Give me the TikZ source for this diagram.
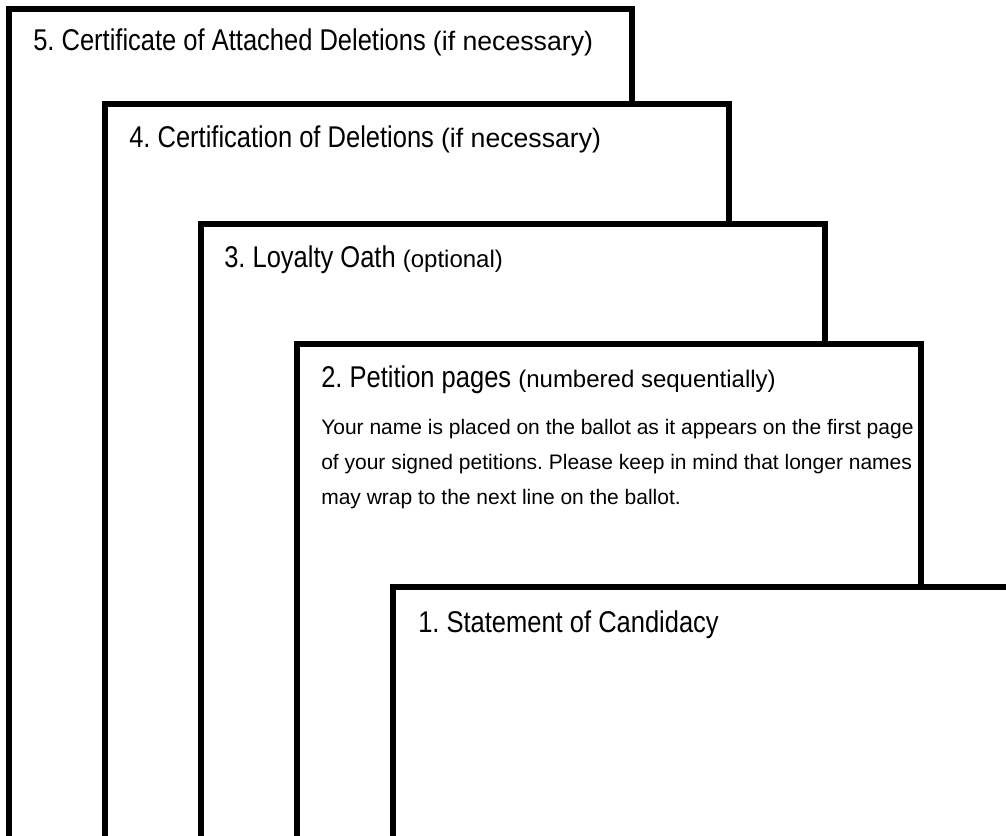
\documentclass[tikz,border=0pt]{standalone}
\usepackage{fontspec}
\setmainfont{Liberation Sans}
\newfontfamily\narrowfont[FakeStretch=0.85]{Liberation Sans}
\frenchspacing
\begin{document}
\begin{tikzpicture}[x=0.75pt,y=-0.75pt,
  page/.style={draw=black,line width=4.5pt,fill=white},
  title/.style={anchor=base west,inner sep=0pt,font=\narrowfont\fontsize{22.5}{27}\selectfont},
  body/.style={anchor=north west,inner sep=0pt,align=left,font=\fontsize{15.75}{26.25}\selectfont}]
\newcommand\paren[2][18]{{\normalfont\fontsize{#1}{22}\selectfont #2}}
\useasboundingbox (0,0) rectangle (1006,835);
\clip (0,0) rectangle (1006,835);
\path[page] (9,9) rectangle (632,900);
\node[title] (t5) at (33,50) {5. Certificate of Attached Deletions \paren[20]{(if necessary)}};
\path[page] (105,104) rectangle (729,900);
\node[title] (t4) at (129,147) {4. Certification of Deletions \paren[20]{(if necessary)}};
\path[page] (201,224) rectangle (825,900);
\node[title] (t3) at (224,267) {3. Loyalty Oath \paren{(optional)}};
\path[page] (297,344) rectangle (921,900);
\node[title] (t2) at (321,387) {2. Petition pages \paren{(numbered sequentially)}};
\node[body] (b2) at (321,419) {Your name is placed on the ballot as it appears on the first page\\of your signed petitions. Please keep in mind that longer names\\may wrap to the next line on the ballot.};
\path[page] (393,587) rectangle (1017,900);
\node[title] (t1) at (418,632) {1. Statement of Candidacy};
\end{tikzpicture}
\end{document}
